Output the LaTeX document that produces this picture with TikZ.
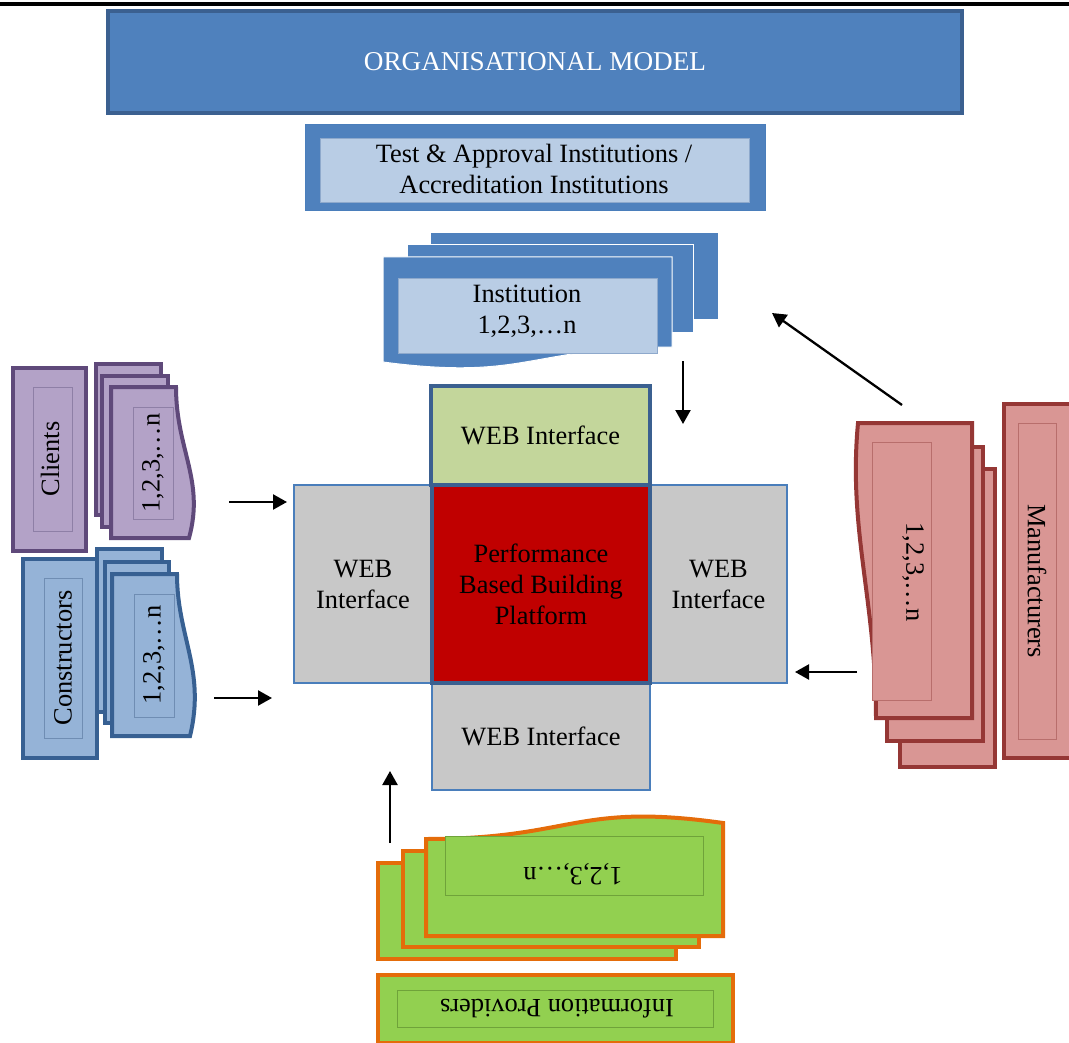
\documentclass[tikz,border=0pt]{standalone}
\usepackage{fontspec}
\setmainfont{Liberation Serif}
\usetikzlibrary{arrows.meta}
\definecolor{blueF}{HTML}{4F81BD}
\definecolor{blueD}{HTML}{3B6090}
\definecolor{blueL}{HTML}{B9CDE5}
\definecolor{blueLine}{HTML}{8EA9CC}
\definecolor{webgreen}{HTML}{C3D69B}
\definecolor{platred}{HTML}{C00000}
\definecolor{webgray}{HTML}{C8C8C8}
\definecolor{webedge}{HTML}{4A7EBB}
\definecolor{purF}{HTML}{B3A2C7}
\definecolor{purD}{HTML}{5F497A}
\definecolor{purL}{HTML}{8E7FA6}
\definecolor{conF}{HTML}{95B3D7}
\definecolor{conD}{HTML}{376092}
\definecolor{conL}{HTML}{6F8DB3}
\definecolor{manF}{HTML}{D99694}
\definecolor{manD}{HTML}{953735}
\definecolor{manL}{HTML}{B86E6C}
\definecolor{infF}{HTML}{92D050}
\definecolor{infD}{HTML}{E46C0A}
\definecolor{infL}{HTML}{6FA33A}
\newcommand{\dfont}{\fontsize{26.4}{31}\selectfont}
\newcommand{\orgfont}{\fontsize{27.2}{31}\selectfont}
\begin{document}
\begin{tikzpicture}[x=1pt,y=-1pt,
  rbox/.style={rectangle, inner sep=0pt, outer sep=0pt, font=\dfont, align=center},
  lbl/.style={inner sep=0pt, outer sep=0pt, font=\dfont, align=center},
  conn/.style={line width=2.3pt, -{Triangle[width=15pt,length=14pt]}},
  instshape/.style={fill=blueF, draw=white, line width=1pt},
  purshape/.style={fill=purF, draw=purD, line width=4pt},
  conshape/.style={fill=conF, draw=conD, line width=4pt},
  manshape/.style={fill=manF, draw=manD, line width=4pt},
  infshape/.style={fill=infF, draw=infD, line width=4pt},
  innerthin/.style={line width=0.7pt}
]
\useasboundingbox (0,0) rectangle (1069,1043);
\clip (0,0) rectangle (1069,1043);
\fill[white] (0,0) rectangle (1069,1043);

% top rule
\draw[line width=4pt, black] (0,4) -- (1069,4);

% Organisational model
\node[rbox, fill=blueF, draw=blueD, line width=3.5pt, text=white, font=\orgfont,
      minimum width=854pt, minimum height=102pt] (org) at (535,62) {ORGANISATIONAL MODEL};

% Test & approval
\node[rbox, fill=blueF, draw=webedge, line width=1pt,
      minimum width=460pt, minimum height=86pt] (testO) at (535,168) {};
\node[rbox, fill=blueL, draw=blueLine, line width=0.6pt,
      minimum width=429pt, minimum height=64pt] (testI) at (534.5,170) {};
\node[lbl] (testT) at (534,169) {Test \& Approval Institutions /\\Accreditation Institutions};

% Institution stack
\draw[instshape] (430,233) rectangle (718,320);
\draw[instshape] (407,245) rectangle (693,332);
\draw[instshape] (383,257) -- (672,257) -- (672,347)
   .. controls (527.5,347) and (527.5,381) .. (383,362) -- cycle;
\node[rbox, fill=blueL, draw=blueLine, line width=0.5pt,
      minimum width=259pt, minimum height=75pt] (instI) at (527.5,315.5) {};
\node[lbl] (instT) at (527,311) {Institution\\1,2,3,…n};

% Central cross
\node[rbox, fill=webgray, draw=webedge, line width=2pt,
      minimum width=138pt, minimum height=198pt] (webL) at (363,584) {WEB\\Interface};
\node[rbox, fill=webgray, draw=webedge, line width=2pt,
      minimum width=137pt, minimum height=198pt] (webR) at (718.5,584) {WEB\\Interface};
\node[rbox, fill=webgray, draw=webedge, line width=2pt,
      minimum width=218pt, minimum height=107pt] (webB) at (541,736.5) {WEB Interface};
\node[rbox, fill=webgreen, draw=blueD, line width=3.5pt,
      minimum width=219pt, minimum height=99pt] (webT) at (540.5,435.5) {WEB Interface};
\node[rbox, fill=platred, draw=blueD, line width=3.5pt,
      minimum width=218pt, minimum height=198pt] (plat) at (541,584) {Performance\\Based Building\\Platform};

% Clients
\node[rbox, fill=purF, draw=purD, line width=4pt,
      minimum width=73pt, minimum height=183pt] (cliO) at (49.5,459.5) {};
\node[rbox, draw=purL, innerthin, minimum width=39pt, minimum height=144pt] (cliI) at (52.5,459) {};
\node[lbl, rotate=90] (cliT) at (50,459) {Clients};
\draw[purshape] (96,364) rectangle (161,515);
\draw[purshape] (102,376) rectangle (168,527);
\draw[purshape] (111,387) -- (176,387) .. controls (176,450) and (205,480) .. (189,538) -- (111,538) -- cycle;
\node[rbox, draw=purL, innerthin, minimum width=40pt, minimum height=112pt] (cliNI) at (153,463) {};
\node[lbl, rotate=90] (cliN) at (153,463) {1,2,3,…n};

% Constructors
\node[rbox, fill=conF, draw=conD, line width=4pt,
      minimum width=74pt, minimum height=199pt] (conO) at (60,658.5) {};
\node[rbox, draw=conL, innerthin, minimum width=38pt, minimum height=160pt] (conI) at (63,658) {};
\node[lbl, rotate=90] (conT) at (63,658) {Constructors};
\draw[conshape] (97,549) rectangle (162,712);
\draw[conshape] (105,562) rectangle (169,723);
\draw[conshape] (112,574) -- (177,574) .. controls (177,637) and (206,670) .. (190,736) -- (112,736) -- cycle;
\node[rbox, draw=conL, innerthin, minimum width=40pt, minimum height=123pt] (conNI) at (154,655.5) {};
\node[lbl, rotate=90] (conN) at (154,655) {1,2,3,…n};

% Manufacturers
\node[rbox, fill=manF, draw=manD, line width=4pt,
      minimum width=76pt, minimum height=354pt] (manO) at (1042,581) {};
\node[rbox, draw=manL, innerthin, minimum width=38pt, minimum height=316pt] (manI) at (1037,581) {};
\node[lbl, rotate=-90] (manT) at (1037,581) {Manufacturers};
\draw[manshape] (900,469) rectangle (995,767);
\draw[manshape] (887,447) rectangle (983,741);
\draw[manshape] (972,423) -- (858,423) .. controls (848,530) and (876,600) .. (876,718) -- (972,718) -- cycle;
\node[rbox, fill=manF, draw=manL, innerthin, minimum width=59pt, minimum height=258pt] (manNI) at (901.5,571) {};
\node[lbl, rotate=-90] (manN) at (913,572) {1,2,3,…n};

% Information providers
\draw[infshape] (378,863) rectangle (676,959);
\draw[infshape] (403,851) rectangle (699,947);
\draw[infshape] (426,839) .. controls (574.5,839) and (574.5,802) .. (723,823) -- (723,936) -- (426,936) -- cycle;
\node[rbox, fill=infF, draw=infL, innerthin, minimum width=258pt, minimum height=59pt] (infNI) at (574,865.5) {};
\node[lbl, rotate=180] (infN) at (573,874) {1,2,3,…n};
\node[rbox, fill=infF, draw=infD, line width=4pt,
      minimum width=355pt, minimum height=68pt] (infO) at (555.5,1009) {};
\node[rbox, draw=infL, innerthin, minimum width=316pt, minimum height=37pt] (infI) at (555,1008.5) {};
\node[lbl, rotate=180] (infT) at (557,1009) {Information Providers};

% arrow end points
\coordinate (a1s) at (683,361);  \coordinate (a1e) at (683,424);
\coordinate (a2s) at (902,405);  \coordinate (a2e) at (772,313);
\coordinate (a3s) at (229,502);  \coordinate (a3e) at (287,502);
\coordinate (a4s) at (214,698);  \coordinate (a4e) at (272,698);
\coordinate (a5s) at (857,672);  \coordinate (a5e) at (795,672);
\coordinate (a6s) at (390,843);  \coordinate (a6e) at (390,771);
\draw[conn] (a1s) -- (a1e);
\draw[conn] (a2s) -- (a2e);
\draw[conn] (a3s) -- (a3e);
\draw[conn] (a4s) -- (a4e);
\draw[conn] (a5s) -- (a5e);
\draw[conn] (a6s) -- (a6e);
\end{tikzpicture}
\end{document}
